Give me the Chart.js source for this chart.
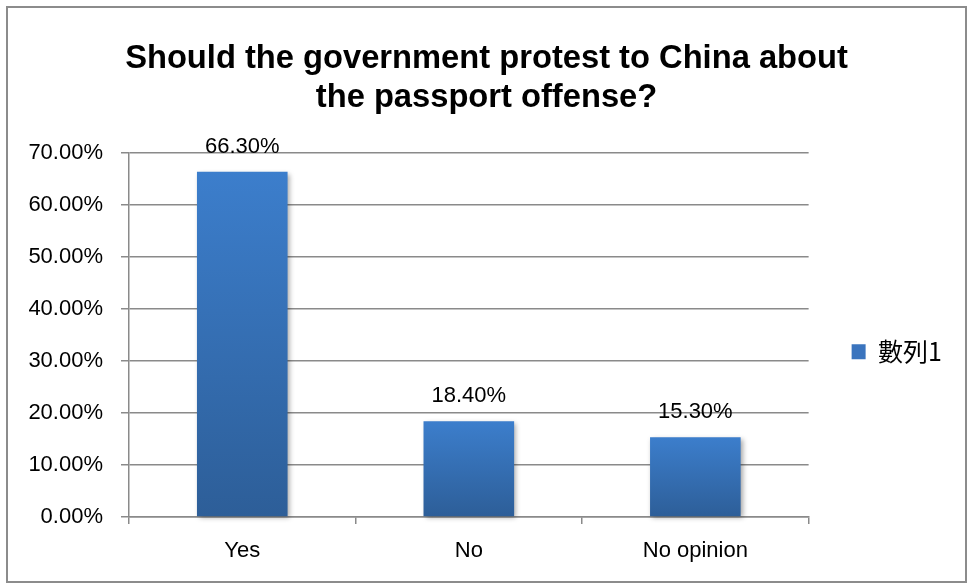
<!DOCTYPE html>
<html>
<head>
<meta charset="utf-8">
<script src="https://cdn.jsdelivr.net/npm/chart.js@4/dist/chart.umd.min.js"></script>
<style>
  body { margin: 0; background: #fff; }
  canvas { display: block; }
</style>
</head>
<body>
<canvas id="chart" width="968" height="585"></canvas>
<script>
// Survey answers (percent)
const categories = ["Yes", "No", "No opinion"];
const values = [66.3, 18.4, 15.3];
const seriesName = "數列1";
const titleLines = ["Should the government protest to China about", "the passport offense?"];
const yTicks = [0, 10, 20, 30, 40, 50, 60, 70];

const gridColor = "#8a8a8a";
const labelFont = { family: "'Liberation Sans', Arial, sans-serif", size: 22 };

// vertical gradient per bar, light at top, dark at bottom
function barFill(c) {
    const y = c.chart.scales.y;
    if (!y || c.type !== "data") return "#3a74be";
    const top = y.getPixelForValue(c.raw);
    const base = y.getPixelForValue(0);
    if (!isFinite(top) || !isFinite(base) || top === base) return "#3a74be";
    const g = c.chart.ctx.createLinearGradient(0, top, 0, base);
    g.addColorStop(0, "#3c7ecc");
    g.addColorStop(1, "#2d5e98");
    return g;
}

// shadow under the bars + value labels above them
const barExtras = {
    id: "barExtras",
    beforeDatasetsDraw(chart) {
        const ctx = chart.ctx;
        ctx.save();
        ctx.shadowColor = "rgba(0,0,0,0.35)";
        ctx.shadowBlur = 5;
        ctx.shadowOffsetX = 2;
        ctx.shadowOffsetY = 2;
    },
    afterDatasetsDraw(chart) {
        const ctx = chart.ctx;
        ctx.restore();
        const meta = chart.getDatasetMeta(0);
        ctx.save();
        ctx.font = `${labelFont.size}px ${labelFont.family}`;
        ctx.fillStyle = "#000";
        ctx.textAlign = "center";
        ctx.textBaseline = "alphabetic";
        meta.data.forEach((bar, i) => {
            ctx.fillText(values[i].toFixed(2) + "%", bar.x, bar.y - 19);
        });
        ctx.restore();
    },
    afterDraw(chart) {
        // outer frame
        const ctx = chart.ctx;
        ctx.save();
        ctx.strokeStyle = "#8c8c8c";
        ctx.lineWidth = 2;
        ctx.strokeRect(7, 7, 959, 575);
        ctx.restore();
    }
};

new Chart(document.getElementById("chart"), {
    type: "bar",
    data: {
        labels: categories,
        datasets: [{
            label: seriesName,
            data: values,
            backgroundColor: barFill,
            borderWidth: 0,
            categoryPercentage: 1,
            barPercentage: 0.4,
            clip: false
        }]
    },
    options: {
        responsive: false,
        animation: false,
        layout: { padding: { left: 21, top: 8, right: 16, bottom: 0 } },
        plugins: {
            title: {
                display: true,
                text: titleLines,
                color: "#000",
                font: { family: "'Liberation Sans', Arial, sans-serif", size: 32.7, weight: "bold", lineHeight: 1.2 },
                padding: { top: 31, bottom: 35 }
            },
            legend: {
                position: "right",
                fullSize: false,
                title: { display: true, text: "", padding: 0, font: { size: 12, lineHeight: "34px" } },
                labels: {
                    color: "#000",
                    font: { family: "'Noto Sans CJK TC', sans-serif", size: 25 },
                    boxWidth: 14,
                    boxHeight: 15,
                    padding: 43,
                    generateLabels: () => [{
                        text: seriesName,
                        fillStyle: "#3a74be",
                        strokeStyle: "#3a74be",
                        fontColor: "#000",
                        lineWidth: 0,
                        datasetIndex: 0
                    }]
                }
            },
            tooltip: { enabled: false }
        },
        scales: {
            x: {
                grid: { drawOnChartArea: false, drawTicks: true, tickLength: 7, color: gridColor, lineWidth: 1.5 },
                border: { color: gridColor, width: 1.5 },
                ticks: { color: "#000", font: labelFont, padding: 14 },
                afterFit: s => { s.height = 68; }
            },
            y: {
                min: 0,
                max: 70,
                afterBuildTicks: s => { s.ticks = yTicks.map(v => ({ value: v })); },
                grid: { color: gridColor, lineWidth: 1.5, tickLength: 8 },
                border: { color: gridColor, width: 1.5 },
                ticks: {
                    color: "#000",
                    font: labelFont,
                    padding: 18,
                    callback: v => v.toFixed(2) + "%"
                },
                afterFit: s => { s.width = 108; }
            }
        }
    },
    plugins: [barExtras]
});
</script>
</body>
</html>
